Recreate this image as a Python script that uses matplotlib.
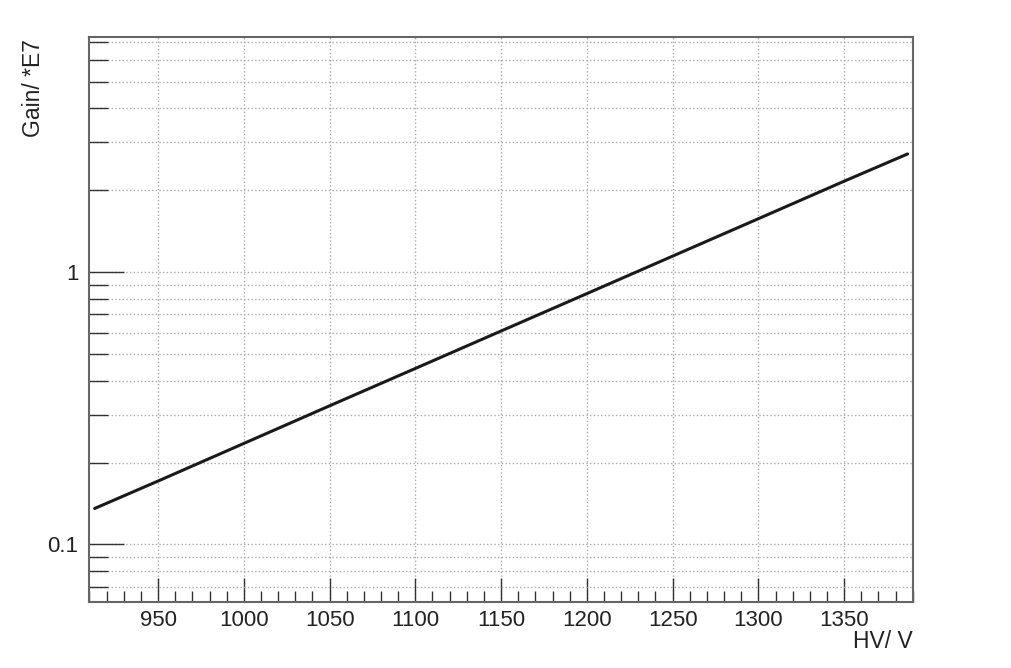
import matplotlib
matplotlib.use('agg')
import matplotlib.pyplot as plt
import matplotlib.ticker as mticker

# values (HV in V, gain in units of 1E7)
hv = [913, 950, 1000, 1050, 1100, 1150, 1200, 1250, 1300, 1350, 1387]
gain = [0.1356, 0.171, 0.235, 0.323, 0.443, 0.608, 0.834, 1.145, 1.571, 2.157, 2.716]

xticks = [950, 1000, 1050, 1100, 1150, 1200, 1250, 1300, 1350]
yticks_major = [0.1, 1]
ytick_labels = ['0.1', '1']
yticks_minor = [0.07, 0.08, 0.09, 0.2, 0.3, 0.4, 0.5, 0.6, 0.7, 0.8, 0.9,
                2, 3, 4, 5, 6, 7]

plt.rcParams['font.family'] = ['Liberation Sans', 'DejaVu Sans']

fig = plt.figure(figsize=(10.11, 6.68), dpi=100)
ax = fig.add_axes([0.0885, 0.0988, 0.8143, 0.8458])

ax.plot(hv, gain, color='#1a1a1a', lw=2.2, solid_capstyle='round')

ax.set_yscale('log')
ax.set_xlim(910, 1390)
ax.set_ylim(0.0615, 7.3)

ax.xaxis.set_major_locator(mticker.FixedLocator(xticks))
ax.xaxis.set_minor_locator(mticker.MultipleLocator(10))
ax.yaxis.set_major_locator(mticker.FixedLocator(yticks_major))
ax.yaxis.set_major_formatter(mticker.FixedFormatter(ytick_labels))
ax.yaxis.set_minor_locator(mticker.FixedLocator(yticks_minor))
ax.yaxis.set_minor_formatter(mticker.NullFormatter())

ax.tick_params(axis='both', which='both', direction='in', colors='#333333',
               labelcolor='#222222', top=False, right=False, width=1.0)
ax.tick_params(axis='x', which='major', length=17, labelsize=16, pad=6)
ax.tick_params(axis='x', which='minor', length=8)
ax.tick_params(axis='y', which='major', length=25, labelsize=16, pad=8)
ax.tick_params(axis='y', which='minor', length=14)

ax.grid(True, axis='x', which='major', color='#aaaaaa', ls=':', lw=1.0)
ax.grid(True, axis='y', which='both', color='#aaaaaa', ls=':', lw=1.0)

for s in ax.spines.values():
    s.set_color('#666666')
    s.set_linewidth(1.5)

fig.text(0.9028, 0.04, 'HV/ V', ha='right', va='center', fontsize=16.5, color='#222222')
fig.text(0.033, 0.942, 'Gain/ *E7', ha='center', va='top', rotation=90,
         fontsize=16.5, color='#222222')

fig.savefig('out.png', dpi=100)
plt.close(fig)
